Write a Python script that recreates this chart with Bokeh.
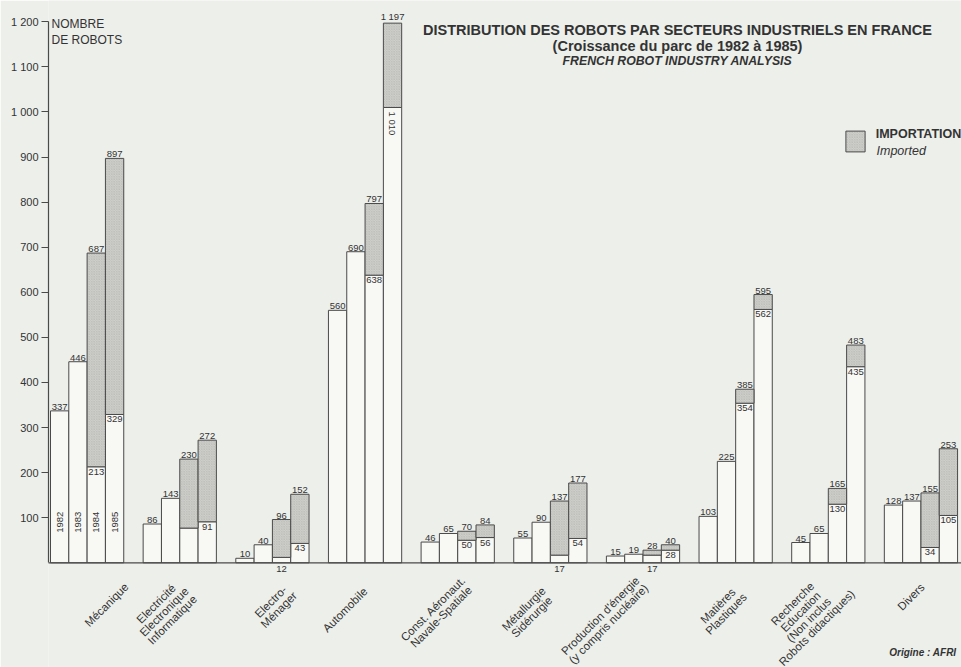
import math
from bokeh.plotting import figure
from bokeh.models import (Range1d, LinearAxis, FixedTicker, Span, Label, Legend,
                          LegendItem, ColumnDataSource, Arrow)
from bokeh.core.properties import value
from bokeh.embed import file_html
from bokeh.resources import INLINE

# ---------------- data ----------------
sectors = [
    "Mécanique",
    "Electricité\nElectronique\nInformatique",
    "Electro-\nMénager",
    "Automobile",
    "Const. Aéronaut.\nNavale-Spatiale",
    "Métallurgie\nSidérurgie",
    "Production d'énergie\n(y compris nucléaire)",
    "Matières\nPlastiques",
    "Recherche\nEducation\n(Non inclus\nRobots didactiques)",
    "Divers",
]
years = ["1982", "1983", "1984", "1985"]
total_1982 = [337, 86, 10, 560, 46, 55, 15, 103, 45, 128]
total_1983 = [446, 143, 40, 690, 65, 90, 19, 225, 65, 137]
total_1984 = [687, 230, 96, 797, 70, 137, 28, 385, 165, 155]
total_1985 = [897, 272, 152, 1197, 84, 177, 40, 595, 483, 253]
domestic_1984 = [213, 77, 12, 638, 50, 17, 17, 354, 130, 34]
domestic_1985 = [329, 91, 43, 1010, 56, 54, 28, 562, 435, 105]
y_ticks = [100, 200, 300, 400, 500, 600, 700, 800, 900, 1000, 1100, 1200]
y_tick_labels = ["100", "200", "300", "400", "500", "600", "700", "800", "900",
                 "1 000", "1 100", "1 200"]

# how the domestic value label of each 1984 / 1985 bar is shown
dom_style_1984 = ["inside", "none", "below", "inside", "inside", "below", "below", "inside", "inside", "inside"]
dom_style_1985 = ["inside", "inside", "inside", "rotated", "inside", "inside", "inside", "inside", "inside", "inside"]

# ---------------- layout ----------------
W, H = 961, 667
FRAME_LEFT = 48
U = 18.31                 # px per bar
GROUP_STEP = 5.06         # bars per group step
X0 = -0.5 - (50 - FRAME_LEFT) / U
X1 = X0 + (W - FRAME_LEFT) / U
PPU = 541.0 / 1200.0
Y0 = -(H - 562.3) / PPU
Y1 = 1200 + 21.3 / PPU

def px2x(px):
    return X0 + (px - FRAME_LEFT) / U

def py2y(py):
    return Y0 + (H - py) / PPU

BG = "#edefeb"
WHITE = "#f8f8f5"
GRAY = "#cfd0cb"
EDGE = "#4a4a4a"
TXT = "#333333"
FONT = "Liberation Sans"

# ---------------- sources ----------------
totals = [total_1982, total_1983, total_1984, total_1985]
domestics = [total_1982, total_1983, domestic_1984, domestic_1985]

def fmt(v):
    s = str(v)
    return s if v < 1000 else s[:-3] + " " + s[-3:]

bars = dict(x=[], total=[], domestic=[], total_txt=[])
imp = dict(x=[], total=[], domestic=[])
lab_inside = dict(x=[], y=[], t=[])
lab_below = dict(x=[], y=[], t=[])
lab_rot = dict(x=[], y=[], t=[])
for g in range(len(sectors)):
    for j in range(4):
        x = g * GROUP_STEP + j
        t = totals[j][g]
        d = domestics[j][g]
        bars["x"].append(x); bars["total"].append(t); bars["domestic"].append(d)
        bars["total_txt"].append(fmt(t))
        if t > d:
            imp["x"].append(x); imp["total"].append(t); imp["domestic"].append(d)
        if j >= 2:
            style = (dom_style_1984 if j == 2 else dom_style_1985)[g]
            tgt = {"inside": lab_inside, "below": lab_below, "rotated": lab_rot}.get(style)
            if tgt is not None:
                tgt["x"].append(x); tgt["y"].append(d if style != "below" else 0)
                tgt["t"].append(fmt(d))

src_bars = ColumnDataSource(bars)
src_imp = ColumnDataSource(imp)

p = figure(width=W, height=H, x_range=Range1d(X0, X1), y_range=Range1d(Y0, Y1),
           x_axis_type=None, y_axis_type=None, toolbar_location=None,
           output_backend="svg", min_border_left=FRAME_LEFT, min_border_right=0,
           min_border_top=0, min_border_bottom=0, background_fill_color=BG,
           border_fill_color=BG, outline_line_color=None)

p.vbar(x="x", width=1, bottom=0, top="domestic", source=src_bars,
       fill_color=WHITE, line_color=EDGE, line_width=1)
r_imp = p.vbar(x="x", width=1, bottom="domestic", top="total", source=src_imp,
               fill_color=GRAY, line_color=EDGE, line_width=1,
               hatch_pattern="diagonal_cross", hatch_color="#b3b4af",
               hatch_scale=2.5, hatch_weight=0.5)

span = Span(location=0, dimension="width", line_color=EDGE, line_width=1.3)
p.add_layout(span)
# baseline continues a little to the left of the vertical axis
p.add_layout(Arrow(end=None, x_start=px2x(23), y_start=0, x_end=px2x(48), y_end=0,
                   line_color=EDGE, line_width=1.3))

yaxis = LinearAxis(bounds=(0, 1200),
                   ticker=FixedTicker(ticks=y_ticks),
                   major_label_overrides={t: l for t, l in zip(y_ticks, y_tick_labels)},
                   axis_line_color=EDGE, axis_line_width=1.2,
                   major_tick_line_color=EDGE, major_tick_line_width=1.2,
                   major_tick_in=0, major_tick_out=7, minor_tick_out=0, minor_tick_in=0,
                   major_label_standoff=3, major_label_text_font=FONT,
                   major_label_text_font_size="11px", major_label_text_color=TXT)
p.add_layout(yaxis, "left")

common = dict(text_font=value(FONT), text_color=TXT)
p.text(x="x", y="total", text="total_txt", source=src_bars, text_align="center",
       text_baseline="bottom", y_offset=-1, text_font_size="9.5px", **common)
p.text(x="x", y="y", text="t", source=ColumnDataSource(lab_inside), text_align="center",
       text_baseline="top", y_offset=2, text_font_size="9.5px", **common)
p.text(x="x", y="y", text="t", source=ColumnDataSource(lab_below), text_align="center",
       text_baseline="top", y_offset=3, text_font_size="9.5px", **common)
p.text(x="x", y="y", text="t", source=ColumnDataSource(lab_rot), text_align="left",
       text_baseline="middle", y_offset=4, angle=-math.pi / 2, text_font_size="9.5px", **common)

# year labels inside the first group
p.text(x=[j for j in range(4)], y=[90] * 4, text=years, angle=math.pi / 2,
       text_align="center", text_baseline="middle", text_font_size="9.5px", **common)

# sector labels
label_dx = [19.5, -15.6, 2.4, -20, -20.6, -22.6, -38.6, -13.6, -23.6, -10]
label_dy = [42, 49, 43, 47, 50, 50, 57, 47, 53, 34]
gc = [g * GROUP_STEP + 1.5 for g in range(len(sectors))]
p.text(x="x", y=0, text="t", x_offset="dx", y_offset="dy",
       source=ColumnDataSource(dict(x=gc, t=sectors, dx=label_dx, dy=label_dy)),
       angle=math.pi / 4, text_align="center", text_baseline="middle",
       text_font_size="11.5px", text_line_height=0.95, **common)

# titles and notes
def add_label(text, px, py, size, style="normal", align="left"):
    p.add_layout(Label(x=px2x(px), y=py2y(py), text=text, text_font=FONT,
                       text_font_size=size, text_font_style=style, text_color=TXT,
                       text_align=align, text_baseline="middle"))

add_label("DISTRIBUTION DES ROBOTS PAR SECTEURS INDUSTRIELS EN FRANCE", 677, 29, "14.5px", "bold", "center")
add_label("(Croissance du parc de 1982 à 1985)", 677, 45.5, "14.5px", "bold", "center")
add_label("FRENCH ROBOT INDUSTRY ANALYSIS", 677, 60, "12.3px", "bold italic", "center")
add_label("NOMBRE", 51, 23.7, "12px")
add_label("DE ROBOTS", 51, 39, "12px")
add_label("Imported", 876, 150, "12.5px", "italic")
add_label("Origine : AFRI", 956, 651.7, "10px", "bold italic", "right")

legend = Legend(items=[LegendItem(label="IMPORTATION\n ", renderers=[r_imp])],
                location=(842.7 - FRAME_LEFT, H - 155), glyph_width=24, glyph_height=26,
                padding=0, margin=0, border_line_color=None, background_fill_alpha=0,
                label_text_font=FONT, label_text_font_size="12.5px",
                label_text_font_style="bold", label_text_color=TXT,
                label_standoff=9, label_text_line_height=1.1)
p.add_layout(legend)

open("out.html", "w").write(file_html(p, INLINE))
